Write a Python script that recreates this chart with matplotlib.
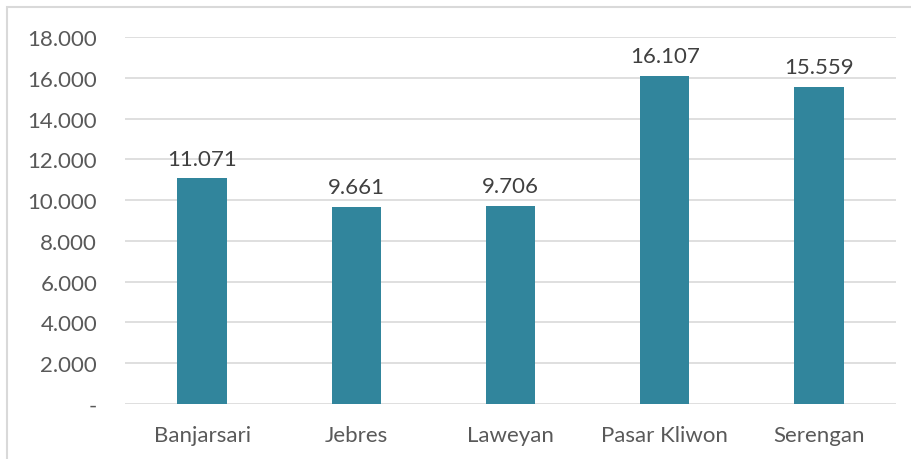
import matplotlib
matplotlib.use("Agg")
from matplotlib import pyplot as plt
from matplotlib.patches import Rectangle

plt.rcParams['font.family'] = ['Lato', 'DejaVu Sans']

kecamatan = ['Banjarsari', 'Jebres', 'Laweyan', 'Pasar Kliwon', 'Serengan']
jumlah = [11071, 9661, 9706, 16107, 15559]
y_ticks = [0, 2000, 4000, 6000, 8000, 10000, 12000, 14000, 16000, 18000]

text_color = '#595959'
bar_color = '#31859C'


def fmt(v):
    if v == 0:
        return '-'
    return f'{v:,.0f}'.replace(',', '.')


fig = plt.figure(figsize=(9.12, 4.6), dpi=100)
ax = fig.add_axes([125 / 912, 1 - 405 / 460, 771 / 912, 367 / 460])

x = range(len(kecamatan))
bars = ax.bar(x, jumlah, width=0.32, color=bar_color, zorder=3)

for b, v in zip(bars, jumlah):
    ax.annotate(fmt(v), (b.get_x() + b.get_width() / 2, v),
                xytext=(0, 7), textcoords='offset points',
                ha='center', va='bottom', fontsize=16, color='#404040')

ax.set_xlim(-0.5, len(kecamatan) - 0.5)
ax.set_ylim(0, 18000)
ax.set_yticks(y_ticks)
ax.set_yticklabels([fmt(t) for t in y_ticks])
ax.set_xticks(list(x))
ax.set_xticklabels(kecamatan)
ax.tick_params(axis='both', length=0, labelsize=16, labelcolor=text_color)
ax.tick_params(axis='y', pad=20)
ax.tick_params(axis='x', pad=15)
ax.grid(axis='y', color='#d9d9d9', linewidth=1.2, zorder=0)
for s in ax.spines.values():
    s.set_visible(False)

# outer chart border
fig.patches.append(Rectangle((7 / 912, -0.1), 1.1, 1 - 8 / 460 + 0.1,
                             transform=fig.transFigure, fill=False,
                             edgecolor='#d9d9d9', linewidth=1.5))

fig.savefig('out.png', dpi=100)
